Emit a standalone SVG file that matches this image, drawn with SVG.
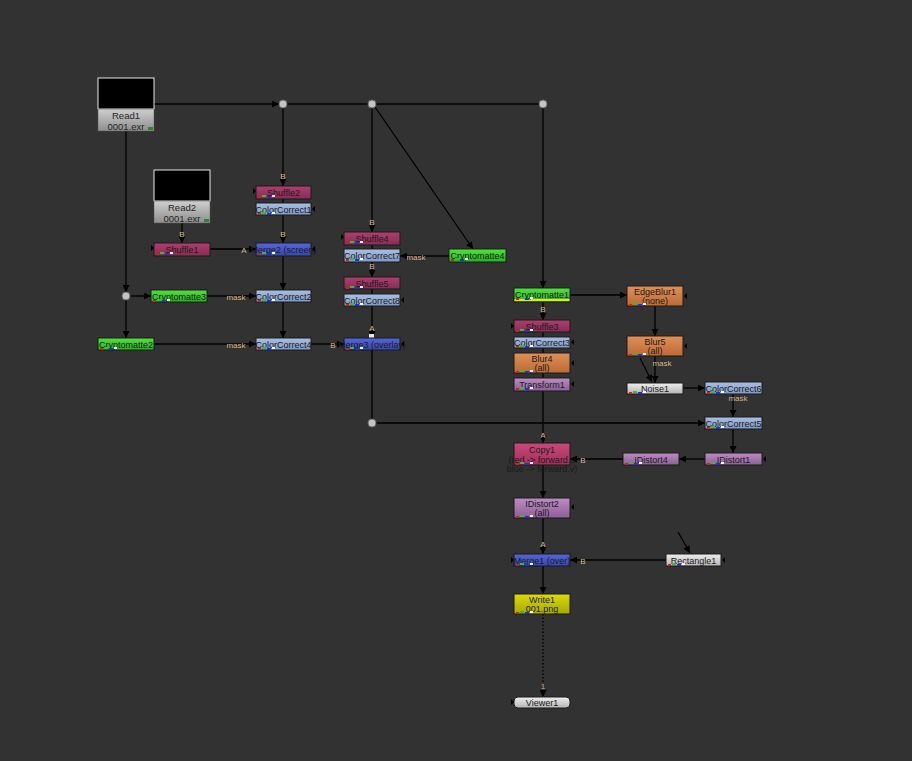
<svg xmlns="http://www.w3.org/2000/svg" xmlns:xlink="http://www.w3.org/1999/xlink" width="912" height="761" viewBox="0 0 912 761">
<defs>
<style>
.n{stroke:#1a1a1a;stroke-width:1}
.t{font-family:"Liberation Sans",Arial,sans-serif;font-size:9px;fill:#1a1a1a;text-anchor:middle}
.rt{font-family:"Liberation Sans",Arial,sans-serif;font-size:9.5px;fill:#262626;text-anchor:middle}
.lb{font-family:"Liberation Sans",Arial,sans-serif;font-size:8px;fill:#d6b487;text-anchor:middle}
.c{fill:none;stroke:#000;stroke-width:1.3}
.a{marker-end:url(#ar)}
.dot{fill:#c4c4c4;stroke:#6a6a6a;stroke-width:1}
.shf{fill:url(#gShf)}.cc{fill:url(#gCC)}.mrg{fill:url(#gMrg)}.cry{fill:url(#gCry)}
.org{fill:url(#gOrg)}.pur{fill:url(#gPur)}.cpy{fill:url(#gCpy)}.gry{fill:url(#gGry)}.wrt{fill:url(#gWrt)}.rd{fill:url(#gRd)}
</style>
<linearGradient id="gShf" x1="0" y1="0" x2="0" y2="1"><stop offset="0" stop-color="#ad3f6e"/><stop offset="1" stop-color="#8a2b55"/></linearGradient>
<linearGradient id="gCC" x1="0" y1="0" x2="0" y2="1"><stop offset="0" stop-color="#aabfe3"/><stop offset="1" stop-color="#7f98c6"/></linearGradient>
<linearGradient id="gMrg" x1="0" y1="0" x2="0" y2="1"><stop offset="0" stop-color="#5466d8"/><stop offset="1" stop-color="#3846b0"/></linearGradient>
<linearGradient id="gCry" x1="0" y1="0" x2="0" y2="1"><stop offset="0" stop-color="#55e040"/><stop offset="1" stop-color="#22b41e"/></linearGradient>
<linearGradient id="gOrg" x1="0" y1="0" x2="0" y2="1"><stop offset="0" stop-color="#de9058"/><stop offset="1" stop-color="#bd6a35"/></linearGradient>
<linearGradient id="gPur" x1="0" y1="0" x2="0" y2="1"><stop offset="0" stop-color="#bc8cc2"/><stop offset="1" stop-color="#8e5e98"/></linearGradient>
<linearGradient id="gCpy" x1="0" y1="0" x2="0" y2="1"><stop offset="0" stop-color="#c8497b"/><stop offset="1" stop-color="#a32f5c"/></linearGradient>
<linearGradient id="gGry" x1="0" y1="0" x2="0" y2="1"><stop offset="0" stop-color="#eeeeee"/><stop offset="1" stop-color="#b4b4b4"/></linearGradient>
<linearGradient id="gWrt" x1="0" y1="0" x2="0" y2="1"><stop offset="0" stop-color="#dada10"/><stop offset="1" stop-color="#a8a800"/></linearGradient>
<linearGradient id="gRd" x1="0" y1="0" x2="0" y2="1"><stop offset="0" stop-color="#cfcfcf"/><stop offset="1" stop-color="#8e8e8e"/></linearGradient>
<marker id="ar" viewBox="0 0 10 10" refX="10" refY="5" markerWidth="8" markerHeight="7" markerUnits="userSpaceOnUse" orient="auto"><path d="M0,0 L10,5 L0,10 z" fill="#000"/></marker>
<g id="ch"><rect x="0" y="0" width="3" height="2" fill="#d02020"/><rect x="4" y="-1" width="4" height="2" fill="#30c030"/><rect x="9" y="0" width="4" height="2" fill="#2030d0"/><rect x="14" y="-1" width="3" height="2" fill="#ffffff"/></g>
<path id="tl" d="M0,-3 L3,0 L0,3 z" fill="#000"/>
<path id="tr" d="M3,-3 L0,0 L3,3 z" fill="#000"/>
</defs>
<rect x="0" y="0" width="912" height="761" fill="#323232"/>

<g id="connectors">
<path class="c a" d="M154,104 H279"/>
<path class="c" d="M287,104 H368"/>
<path class="c" d="M376,104 H539"/>
<path class="c a" d="M283,108 V186"/>
<path class="c" d="M283,199 V203"/>
<path class="c a" d="M283,215 V243"/>
<path class="c a" d="M182,223 V243"/>
<path class="c a" d="M210,249 H256"/>
<path class="c a" d="M283,256 V290"/>
<path class="c a" d="M126,131 V292"/>
<path class="c a" d="M126,300 V338"/>
<path class="c a" d="M130,296 H151"/>
<path class="c a" d="M207,296 H256"/>
<path class="c a" d="M283,302 V338"/>
<path class="c a" d="M154,344 H256"/>
<path class="c a" d="M311,344 H344"/>
<path class="c a" d="M372,108 V232"/>
<path class="c" d="M372,245 V249"/>
<path class="c a" d="M372,262 V277"/>
<path class="c" d="M372,289 V294"/>
<path class="c a" d="M372,306 V338"/>
<path class="c a" d="M449,256 H400"/>
<path class="c a" d="M375,107 L473,249"/>
<path class="c" d="M372,350 V419"/>
<path class="c a" d="M376,423 H705"/>
<path class="c a" d="M543,108 V288"/>
<path class="c a" d="M570,295 H627"/>
<path class="c a" d="M543,302 V320"/>
<path class="c" d="M543,332 V337"/>
<path class="c" d="M543,348 V353"/>
<path class="c" d="M543,373 V378"/>
<path class="c a" d="M543,391 V443"/>
<path class="c a" d="M655,306 V336"/>
<path class="c a" d="M655,356 V383"/>
<path class="c a" d="M640,358 L652,382"/>
<path class="c a" d="M683,388 H705"/>
<path class="c a" d="M733,394 V417"/>
<path class="c a" d="M733,429 V453"/>
<path class="c a" d="M705,459 H679"/>
<path class="c a" d="M623,459 H570"/>
<path class="c a" d="M543,465 V498"/>
<path class="c a" d="M543,518 V554"/>
<path class="c a" d="M666,560 H570"/>
<path class="c a" d="M678,532 L690,553"/>
<path class="c a" d="M543,566 V594"/>
<path class="c a" d="M543,614 V697" stroke-dasharray="1.5,2"/>
<circle class="dot" cx="283" cy="104" r="4"/>
<circle class="dot" cx="372" cy="104" r="4"/>
<circle class="dot" cx="543" cy="104" r="4"/>
<circle class="dot" cx="126" cy="296" r="4"/>
<circle class="dot" cx="372" cy="423" r="4"/>
<rect x="369" y="334" width="5" height="5" fill="#e8e8e8"/>
<text class="lb" x="283" y="179">B</text>
<text class="lb" x="283" y="237">B</text>
<text class="lb" x="182" y="237">B</text>
<text class="lb" x="244" y="253">A</text>
<text class="lb" x="236" y="300">mask</text>
<text class="lb" x="236" y="348">mask</text>
<text class="lb" x="333" y="348">B</text>
<text class="lb" x="372" y="225">B</text>
<text class="lb" x="372" y="269">B</text>
<text class="lb" x="372" y="331">A</text>
<text class="lb" x="416" y="260">mask</text>
<text class="lb" x="543" y="312">B</text>
<text class="lb" x="543" y="438">A</text>
<text class="lb" x="662" y="366">mask</text>
<text class="lb" x="738" y="401">mask</text>
<text class="lb" x="583" y="463">B</text>
<text class="lb" x="543" y="547">A</text>
<text class="lb" x="583" y="564">B</text>
<text class="lb" x="543" y="689">1</text>
</g>

<g id="Read1">
<rect x="98" y="78" width="56" height="31" fill="#000" stroke="#e8e8e8" stroke-width="1"/>
<rect class="rd" x="98" y="109" width="56" height="22" stroke="#555" stroke-width="0.5"/>
<text class="rt" x="126" y="118.5">Read1</text>
<text class="rt" x="126" y="129.5">0001.exr</text>
<rect x="148" y="127" width="5" height="3" fill="#2a8a2a"/>
</g>
<g id="Read2">
<rect x="154" y="170" width="56" height="31" fill="#000" stroke="#e8e8e8" stroke-width="1"/>
<rect class="rd" x="154" y="201" width="56" height="22" stroke="#555" stroke-width="0.5"/>
<text class="rt" x="182" y="210.5">Read2</text>
<text class="rt" x="182" y="221.5">0001.exr</text>
<rect x="204" y="219" width="5" height="3" fill="#2a8a2a"/>
</g>

<g id="Shuffle2"><rect class="n shf" x="256" y="186" width="55" height="13"/><text class="t" x="283.5" y="196">Shuffle2</text><use href="#ch" x="258" y="196"/><use href="#tl" x="253" y="191"/></g>
<g id="ColorCorrect1"><rect class="n cc" x="256" y="203" width="55" height="12"/><text class="t" x="283.5" y="212.5">ColorCorrect1</text><use href="#ch" x="258" y="213"/><use href="#tr" x="312" y="209"/></g>
<g id="Shuffle1"><rect class="n shf" x="154" y="243" width="56" height="13"/><text class="t" x="182" y="253">Shuffle1</text><use href="#ch" x="156" y="253"/><use href="#tl" x="151" y="248"/></g>
<g id="Merge2"><rect class="n mrg" x="256" y="243" width="55" height="13"/><text class="t" x="283.5" y="253">Merge2 (screen)</text><use href="#ch" x="258" y="253"/><use href="#tr" x="312" y="249"/></g>
<g id="Cryptomatte3"><rect class="n cry" x="151" y="290" width="56" height="12"/><text class="t" x="179" y="299.5">Cryptomatte3</text><use href="#ch" x="153" y="300"/></g>
<g id="ColorCorrect2"><rect class="n cc" x="256" y="290" width="55" height="12"/><text class="t" x="283.5" y="299.5">ColorCorrect2</text><use href="#ch" x="258" y="300"/></g>
<g id="Cryptomatte2"><rect class="n cry" x="98" y="338" width="56" height="12"/><text class="t" x="126" y="347.5">Cryptomatte2</text><use href="#ch" x="100" y="348"/></g>
<g id="ColorCorrect4"><rect class="n cc" x="256" y="338" width="55" height="12"/><text class="t" x="283.5" y="347.5">ColorCorrect4</text><use href="#ch" x="258" y="348"/></g>
<g id="Merge3"><rect class="n mrg" x="344" y="338" width="56" height="12"/><text class="t" x="372" y="347.5">Merge3 (overlay)</text><use href="#ch" x="346" y="348"/><use href="#tr" x="401" y="344"/></g>
<g id="Shuffle4"><rect class="n shf" x="344" y="232" width="56" height="13"/><text class="t" x="372" y="242">Shuffle4</text><use href="#ch" x="346" y="242"/><use href="#tl" x="341" y="237"/></g>
<g id="ColorCorrect7"><rect class="n cc" x="344" y="249" width="56" height="13"/><text class="t" x="372" y="259">ColorCorrect7</text><use href="#ch" x="346" y="259"/></g>
<g id="Shuffle5"><rect class="n shf" x="344" y="277" width="56" height="12"/><text class="t" x="372" y="286.5">Shuffle5</text><use href="#ch" x="346" y="287"/></g>
<g id="ColorCorrect8"><rect class="n cc" x="344" y="294" width="56" height="12"/><text class="t" x="372" y="303.5">ColorCorrect8</text><use href="#ch" x="346" y="304"/><use href="#tr" x="401" y="300"/></g>
<g id="Cryptomatte4"><rect class="n cry" x="449" y="249" width="57" height="13"/><text class="t" x="477.5" y="259">Cryptomatte4</text><use href="#ch" x="451" y="259"/></g>

<g id="Cryptomatte1"><rect class="n cry" x="514" y="288" width="56" height="14"/><rect x="514.5" y="299" width="55" height="2" fill="#e8e020"/><text class="t" x="542" y="298">Cryptomatte1</text><use href="#ch" x="516" y="298"/></g>
<g id="EdgeBlur1"><rect class="n org" x="627" y="286" width="56" height="20"/><text class="t" x="655" y="295">EdgeBlur1</text><text class="t" x="655" y="304">(none)</text><use href="#ch" x="629" y="304"/><use href="#tr" x="684" y="296"/></g>
<g id="Shuffle3"><rect class="n shf" x="514" y="320" width="56" height="12"/><text class="t" x="542" y="329.5">Shuffle3</text><use href="#ch" x="516" y="330"/><use href="#tl" x="511" y="326"/></g>
<g id="ColorCorrect3"><rect class="n cc" x="514" y="337" width="56" height="11"/><text class="t" x="542" y="346">ColorCorrect3</text><use href="#ch" x="516" y="346"/><use href="#tr" x="571" y="342"/></g>
<g id="Blur4"><rect class="n org" x="514" y="353" width="56" height="20"/><text class="t" x="542" y="362">Blur4</text><text class="t" x="542" y="371">(all)</text><use href="#ch" x="516" y="371"/><use href="#tr" x="571" y="363"/></g>
<g id="Transform1"><rect class="n pur" x="514" y="378" width="56" height="13"/><text class="t" x="542" y="388">Transform1</text><use href="#ch" x="516" y="388"/><use href="#tr" x="571" y="384"/></g>
<g id="Blur5"><rect class="n org" x="627" y="336" width="56" height="20"/><text class="t" x="655" y="345">Blur5</text><text class="t" x="655" y="354">(all)</text><use href="#ch" x="629" y="354"/><use href="#tr" x="684" y="346"/></g>
<g id="Noise1"><rect class="n gry" x="627" y="383" width="56" height="11"/><text class="t" x="655" y="392">Noise1</text><use href="#ch" x="629" y="392"/></g>
<g id="ColorCorrect6"><rect class="n cc" x="705" y="382" width="57" height="12"/><text class="t" x="733.5" y="391.5">ColorCorrect6</text><use href="#ch" x="707" y="392"/></g>
<g id="ColorCorrect5"><rect class="n cc" x="705" y="417" width="57" height="12"/><text class="t" x="733.5" y="426.5">ColorCorrect5</text><use href="#ch" x="707" y="427"/></g>
<g id="IDistort1"><rect class="n pur" x="705" y="453" width="57" height="12"/><text class="t" x="733.5" y="462.5">IDistort1</text><use href="#ch" x="707" y="463"/><use href="#tr" x="763" y="459"/></g>
<g id="IDistort4"><rect class="n pur" x="623" y="453" width="56" height="12"/><text class="t" x="651" y="462.5">IDistort4</text><use href="#ch" x="625" y="463"/></g>
<g id="Copy1"><rect class="n cpy" x="514" y="443" width="56" height="22"/><text class="t" x="542" y="453">Copy1</text><text class="t" x="542" y="463">(red -&gt; forward.u</text><text class="t" x="542" y="472">blue -&gt; forward.v)</text><use href="#ch" x="516" y="463"/></g>
<g id="IDistort2"><rect class="n pur" x="514" y="498" width="56" height="20"/><text class="t" x="542" y="507">IDistort2</text><text class="t" x="542" y="516">(all)</text><use href="#ch" x="516" y="516"/><use href="#tr" x="571" y="507"/></g>
<g id="Merge1"><rect class="n mrg" x="514" y="554" width="56" height="12"/><text class="t" x="542" y="563.5">Merge1 (over)</text><use href="#ch" x="516" y="564"/><use href="#tl" x="511" y="560"/></g>
<g id="Rectangle1"><rect class="n gry" x="666" y="554" width="55" height="12"/><text class="t" x="693.5" y="563.5">Rectangle1</text><use href="#ch" x="668" y="564"/><use href="#tr" x="722" y="560"/></g>
<g id="Write1"><rect class="n wrt" x="514" y="594" width="56" height="20"/><text class="t" x="542" y="603">Write1</text><text class="t" x="542" y="612">001.png</text><use href="#ch" x="516" y="612"/></g>
<g id="Viewer1"><rect class="n gry" x="514" y="697" width="56" height="11" rx="4"/><text class="t" x="542" y="706">Viewer1</text><use href="#tl" x="511" y="702"/></g>
</svg>
